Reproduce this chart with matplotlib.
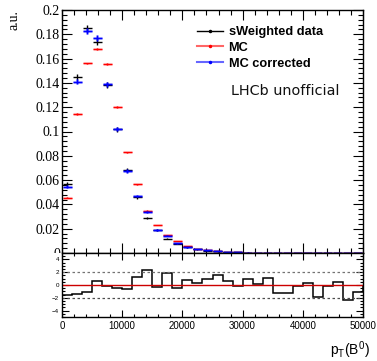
import numpy as np
import matplotlib
matplotlib.use('Agg')
import matplotlib.pyplot as plt
from matplotlib.lines import Line2D
from matplotlib.patches import Rectangle
from matplotlib.ticker import MultipleLocator

# binning of p_T(B0)
edges = np.linspace(0, 50000, 31)
centers = 0.5 * (edges[:-1] + edges[1:])
halfw = 0.5 * (edges[1] - edges[0])

data = [0.057, 0.145, 0.185, 0.174, 0.138, 0.102, 0.068, 0.046, 0.0287, 0.0192,
        0.0118, 0.0078, 0.0048, 0.003, 0.002, 0.0013, 0.0008, 0.0005, 0.0003, 0.0002,
        0.00015, 0.0001, 0.00007, 0.00005, 0.00004, 0.00003, 0.00002, 0.00002, 0.00001, 0.00001]
data_err = [0.0015, 0.0025, 0.0028, 0.0027, 0.0024, 0.002, 0.0016, 0.0013, 0.001, 0.0008,
            0.0006, 0.0005, 0.0004, 0.0003, 0.00025, 0.0002, 0.00015, 0.0001, 0.0001, 0.0001,
            0.00008, 0.00006, 0.00005, 0.00004, 0.00003, 0.00003, 0.00002, 0.00002, 0.00001, 0.00001]
mc = [0.0455, 0.1145, 0.156, 0.168, 0.1555, 0.120, 0.083, 0.0565, 0.0348, 0.023,
      0.0148, 0.0098, 0.0058, 0.0035, 0.0022, 0.0014, 0.0009, 0.0006, 0.0004, 0.00025,
      0.00018, 0.00012, 0.00008, 0.00006, 0.00004, 0.00003, 0.00002, 0.00002, 0.00001, 0.00001]
mc_err = [0.0004, 0.0006, 0.0007, 0.0007, 0.0007, 0.0006, 0.0005, 0.0004, 0.0003, 0.00025,
          0.0002, 0.00015, 0.0001, 0.0001, 0.00008, 0.00006, 0.00005, 0.00004, 0.00003, 0.00002,
          0.00002, 0.00001, 0.00001, 0.00001, 0.00001, 0.00001, 0.00001, 0.00001, 0.00001, 0.00001]
mc_corr = [0.0545, 0.141, 0.183, 0.177, 0.139, 0.102, 0.0675, 0.047, 0.0335, 0.0188,
           0.0142, 0.0079, 0.0046, 0.0031, 0.0021, 0.0014, 0.0009, 0.0006, 0.0004, 0.00025,
           0.00018, 0.00012, 0.00008, 0.00006, 0.00004, 0.00003, 0.00002, 0.00002, 0.00001, 0.00001]
mc_corr_err = [0.0012, 0.002, 0.0025, 0.0024, 0.002, 0.0016, 0.0013, 0.001, 0.0009, 0.0006,
               0.0005, 0.0004, 0.0003, 0.0002, 0.0002, 0.00015, 0.0001, 0.0001, 0.00008, 0.00006,
               0.00005, 0.00004, 0.00003, 0.00002, 0.00002, 0.00001, 0.00001, 0.00001, 0.00001, 0.00001]
pull = [-1.6, -1.35, -1.1, 0.55, -0.15, -0.45, -0.55, 1.25, 2.4, -0.3,
        1.9, -0.4, 0.8, 0.35, 0.9, 1.55, 0.55, -0.2, 0.95, 0.2,
        1.05, -1.3, -1.3, -0.2, 0.35, -1.9, -0.2, 0.5, -2.4, -1.1]

fig = plt.figure(figsize=(3.77, 3.61), dpi=100)
ax = fig.add_axes([62/377, 1-253/361, 301/377, 243/361])
axr = fig.add_axes([62/377, 1-317/361, 301/377, 64/361])
axr.set_zorder(10)

# white pad hiding the lower half of the main panel's "0" label, like the ROOT lower pad
fig.add_artist(Rectangle((0, 1-318/361), 62/377, 65/361, transform=fig.transFigure,
                         facecolor='white', edgecolor='none', zorder=5))

xerr = halfw * 0.9
ax.errorbar(centers, mc, yerr=mc_err, xerr=xerr, fmt='none', ecolor='#ff0000', elinewidth=2.2, alpha=0.3)
ax.errorbar(centers, mc, yerr=mc_err, xerr=xerr, fmt='none', ecolor='#ff0000', elinewidth=0.8)
ax.errorbar(centers, data, yerr=data_err, xerr=xerr, fmt='none', ecolor='black', elinewidth=1.0)
ax.errorbar(centers, mc_corr, yerr=mc_corr_err, xerr=xerr, fmt='none', ecolor='#0000ff', elinewidth=2.2, alpha=0.3)
ax.errorbar(centers, mc_corr, yerr=mc_corr_err, xerr=xerr, fmt='none', ecolor='#0000ff', elinewidth=1.0)

ax.set_xlim(0, 50000)
ax.set_ylim(0, 0.2)
ax.yaxis.set_major_locator(MultipleLocator(0.02))
ax.yaxis.set_minor_locator(MultipleLocator(0.004))
ax.xaxis.set_major_locator(MultipleLocator(10000))
ax.xaxis.set_minor_locator(MultipleLocator(2000))
ax.tick_params(axis='both', which='both', direction='in', top=True, right=True, labelbottom=False)
ax.tick_params(which='major', length=7, width=0.8)
ax.tick_params(which='minor', length=3.5, width=0.8)
ax.tick_params(axis='y', pad=1.5)
ax.set_yticks(np.arange(0, 0.201, 0.02))
ax.set_yticklabels(['0', '0.02', '0.04', '0.06', '0.08', '0.1', '0.12', '0.14', '0.16', '0.18', '0.2'],
                   fontfamily='Liberation Serif', fontsize=10)
for s in ax.spines.values():
    s.set_linewidth(1.0)

fig.text(8/377, 1-10/361, 'a.u.', rotation=90, ha='left', va='top', fontfamily='Liberation Serif', fontsize=10)

handles = [Line2D([], [], color='black', lw=1.0, marker='o', ms=1.5),
           Line2D([], [], color='#ff6666', lw=1.5, marker='o', ms=1.5, mfc='#ff0000', mec='#ff0000'),
           Line2D([], [], color='#6666ff', lw=1.5, marker='o', ms=1.5, mfc='#0000ff', mec='#0000ff')]
leg = ax.legend(handles, ['sWeighted data', 'MC', 'MC corrected'], loc='upper left',
                bbox_to_anchor=(197/377, 1-26/361), bbox_transform=fig.transFigure,
                frameon=False, handlelength=2.0, handletextpad=0.47, labelspacing=0.3,
                borderpad=0, borderaxespad=0,
                prop={'family': 'Liberation Sans', 'weight': 'bold', 'size': 9.2})
ax.text(231/377, 1-91/361, 'LHCb unofficial', transform=fig.transFigure, ha='left', va='center',
        fontfamily='DejaVu Sans', fontsize=10.4, color='#111111')

# pull panel
axr.stairs(pull, edges, color='black', lw=1.1)
axr.axhline(0, color='#cc0000', lw=1.0)
axr.axhline(2, color='0.45', lw=0.9, ls=(0, (2, 2)))
axr.axhline(-2, color='0.3', lw=0.9, ls=(0, (2, 2)))
axr.set_xlim(0, 50000)
axr.set_ylim(-5, 5)
axr.yaxis.set_major_locator(MultipleLocator(2))
axr.yaxis.set_minor_locator(MultipleLocator(0.5))
axr.xaxis.set_major_locator(MultipleLocator(10000))
axr.xaxis.set_minor_locator(MultipleLocator(2000))
axr.tick_params(axis='both', which='both', direction='in', top=True, right=True)
axr.tick_params(which='major', length=5, width=0.8)
axr.tick_params(which='minor', length=2.5, width=0.8)
axr.set_yticks([-4, -2, 0, 2, 4])
axr.set_yticklabels(['\u22124', '\u22122', '0', '2', '4'], fontfamily='Liberation Sans', fontsize=4.5)
axr.set_xticks([0, 10000, 20000, 30000, 40000, 50000])
axr.set_xticklabels(['0', '10000', '20000', '30000', '40000', '50000'], fontfamily='Liberation Sans', fontsize=7)
axr.tick_params(axis='x', pad=3)
axr.tick_params(axis='y', pad=2)
for s in axr.spines.values():
    s.set_linewidth(1.0)

fig.text(370/377, 1-350/361, r'p$_{\mathregular{T}}$(B$^{\mathregular{0}}$)', ha='right', va='center',
         fontfamily='Liberation Sans', fontsize=10)

fig.savefig('out.png', dpi=100)
